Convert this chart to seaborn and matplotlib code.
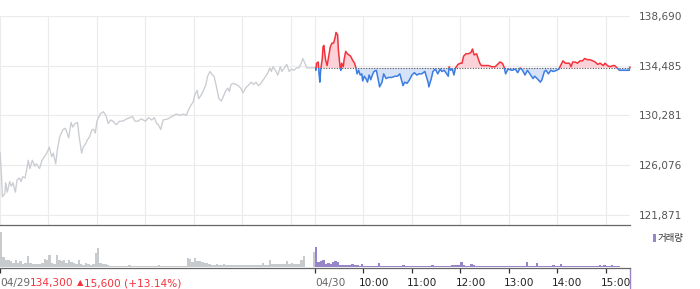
import numpy as np
import pandas as pd
import matplotlib
matplotlib.use("Agg")
import matplotlib.pyplot as plt
import matplotlib.transforms as mtransforms
from matplotlib.patches import Rectangle
import seaborn as sns

# ---------------- data ----------------
base_price = 134300          # previous close (04/29 close)
header_price = "134,300"
header_change = "15,600 (+13.14%)"

# 04/29 intraday price (minutes after 09:00)
day1_min = [0, 2, 3, 6, 7, 9, 12, 14, 16, 19, 21, 24, 26, 28, 31, 33, 35, 37, 40, 43, 45, 49, 52, 54, 58,
            61, 64, 66, 69, 71, 74, 78, 81, 85, 88, 90, 93, 96, 98, 101, 103, 106, 108, 111, 114, 116, 118,
            120, 124, 128, 131, 134, 137, 140, 144, 148, 152, 157, 161, 164, 167, 171, 175, 180, 184, 188,
            191, 194, 196, 199, 202, 208, 213, 218, 223, 227, 231, 233, 236, 239, 241, 244, 246, 249, 252,
            255, 257, 260, 263, 265, 268, 271, 274, 276, 279, 282, 284, 286, 289, 292, 295, 298, 301, 304,
            307, 311, 314, 317, 320, 323, 326, 329, 331, 334, 336, 338, 341, 344, 347, 349, 352, 355, 358,
            361, 364, 367, 370, 373, 375, 378, 380, 390]
day1_price = [127200, 125000, 123400, 123700, 124600, 123800, 124700, 124300, 124600, 123800, 124800, 125000,
              124700, 125100, 125000, 125700, 126500, 125800, 126500, 126000, 126200, 125800, 126500, 126700,
              127100, 127600, 126800, 127100, 126200, 127400, 128500, 129100, 129200, 128400, 129700, 129300,
              129600, 129700, 128500, 127100, 127600, 127900, 128200, 128500, 129100, 129100, 128800, 129800,
              130400, 130600, 130300, 129600, 129900, 129800, 129500, 129800, 129800, 130000, 130100, 130200,
              129800, 129800, 130000, 129800, 130100, 129900, 130100, 129600, 129500, 129100, 129900, 130000,
              130200, 130400, 130300, 130400, 130300, 130700, 131100, 131400, 132000, 132400, 131700, 132000,
              132400, 132900, 133600, 134000, 133700, 133600, 132700, 131700, 131500, 131800, 132300, 132600,
              132300, 132900, 133000, 132900, 132800, 132600, 132200, 132600, 132800, 133100, 132900, 133100,
              132800, 133000, 133300, 133600, 133800, 134300, 134000, 134400, 134100, 133700, 134400, 134000,
              134300, 134600, 134000, 134200, 134100, 134300, 134300, 134700, 135100, 134600, 134300, 134300]

# 04/30 intraday price (minutes after 09:00)
day2_min = [0, 1, 2, 4, 5, 6, 7, 9, 10, 11, 13, 15, 17, 19, 21, 23, 25, 26, 28, 29, 31, 32, 33, 35, 36, 38,
            40, 42, 44, 47, 49, 51, 52, 54, 56, 58, 59, 61, 63, 65, 67, 69, 71, 73, 76, 78, 80, 83, 85, 88,
            91, 95, 99, 102, 105, 107, 109, 111, 114, 117, 120, 123, 126, 129, 132, 136, 140, 141, 144, 146,
            149, 152, 155, 157, 160, 163, 165, 166, 168, 170, 172, 174, 177, 180, 182, 184, 187, 190, 193,
            195, 197, 200, 202, 204, 206, 210, 215, 219, 223, 226, 229, 232, 234, 236, 239, 244, 248, 251,
            254, 257, 260, 263, 266, 270, 272, 275, 279, 281, 284, 286, 289, 292, 295, 299, 302, 304, 307,
            310, 312, 315, 317, 319, 322, 325, 328, 331, 334, 337, 340, 344, 347, 350, 353, 357, 359, 362,
            365, 369, 371, 374, 377, 380, 386, 389, 390]
day2_price = [134300, 134100, 134700, 134800, 133800, 133100, 134100, 135100, 136100, 136200, 135000, 134500,
              135300, 136100, 136400, 136400, 136900, 137300, 137100, 135800, 134400, 134100, 134700, 134400,
              135000, 135700, 135500, 135400, 135300, 134900, 134700, 134200, 133800, 134100, 133700, 133800,
              133200, 133600, 133400, 133100, 133700, 133300, 133700, 134000, 134100, 133400, 132700, 133100,
              133800, 133400, 133500, 133500, 133600, 133600, 133800, 133300, 132800, 133100, 133000, 133300,
              133700, 133900, 133700, 133800, 133800, 134000, 133100, 132700, 133400, 134000, 134200, 133800,
              134200, 134000, 134100, 133800, 133600, 134400, 134100, 134200, 133700, 134300, 134600, 134700,
              134700, 135300, 135500, 135500, 135600, 135900, 135400, 135500, 135100, 134700, 134500, 134500,
              134500, 134400, 134400, 134600, 134800, 134700, 134400, 133800, 134200, 134100, 134200, 133900,
              134300, 134100, 133700, 134100, 133800, 133400, 133600, 133400, 133100, 133300, 134000, 134100,
              133800, 134100, 134000, 134100, 134200, 134500, 134900, 134700, 134700, 134700, 134400, 134800,
              134800, 134700, 134900, 134900, 135100, 135000, 135000, 134900, 134800, 134600, 134700, 134500,
              134700, 134500, 134400, 134500, 134500, 134300, 134100, 134100, 134100, 134100, 134400]

# volume per 3-minute bucket (thousand shares)
day1_vol = [357, 100, 75, 70, 60, 40, 70, 35, 57, 30,
            35, 107, 43, 30, 30, 28, 30, 35, 83, 67,
            117, 35, 30, 123, 73, 60, 67, 40, 70, 50,
            35, 30, 67, 25, 23, 35, 25, 23, 25, 140,
            197, 40, 30, 25, 15, 12, 10, 13, 10, 12,
            10, 11, 10, 23, 10, 12, 10, 8, 10, 11,
            10, 9, 10, 12, 10, 15, 10, 10, 12, 10,
            9, 10, 11, 12, 12, 10, 12, 90, 83, 45,
            90, 57, 55, 45, 40, 35, 30, 20, 18, 33,
            18, 15, 27, 18, 15, 18, 15, 18, 15, 20,
            18, 15, 18, 15, 20, 18, 15, 20, 43, 20,
            22, 67, 25, 25, 28, 25, 30, 28, 60, 28,
            43, 25, 28, 30, 67, 107, 0, 0, 0, 153]
day2_vol = [200, 45, 60, 70, 30, 35, 27, 50, 55, 45,
            17, 15, 17, 15, 20, 33, 17, 15, 13, 27,
            10, 12, 10, 10, 12, 10, 37, 10, 10, 12,
            10, 8, 10, 12, 10, 10, 15, 10, 10, 12,
            10, 10, 13, 10, 10, 12, 10, 10, 15, 10,
            12, 10, 10, 10, 12, 10, 20, 15, 15, 17,
            50, 20, 13, 13, 27, 15, 13, 12, 10, 10,
            10, 10, 8, 10, 10, 12, 10, 10, 8, 10,
            10, 12, 10, 10, 10, 10, 10, 50, 10, 10,
            10, 40, 10, 10, 12, 10, 10, 13, 20, 10,
            10, 27, 8, 10, 8, 10, 8, 8, 10, 8,
            10, 8, 8, 10, 8, 8, 10, 20, 10, 20,
            8, 10, 20, 7, 7, 7, 0, 0, 0, 0]

y_ticks = [121871, 126076, 130281, 134485, 138690]
day_labels = ["04/29", "04/30"]
hour_labels = ["10:00", "11:00", "12:00", "13:00", "14:00", "15:00"]

# ---------------- style ----------------
RED = "#f5323c"
RED_FILL = "#fbd2d7"
BLUE = "#3b7de0"
BLUE_FILL = "#d5e2f7"
GRAY_LINE = "#c9ccd1"
GRAY_VOL = "#c8cbce"
PURPLE = "#9884c8"
GRID = "#ebebeb"

sns.set_theme(style="white")
plt.rcParams["font.family"] = ["DejaVu Sans", "Noto Sans CJK KR"]

W, H = 700, 289
fig = plt.figure(figsize=(W / 100, H / 100), dpi=100, facecolor="white")


def rect(l, t, r, b):
    return [l / W, 1 - b / H, (r - l) / W, (b - t) / H]


ax = fig.add_axes(rect(0, 16, 630, 225))
axv = fig.add_axes(rect(0, 225, 630, 268))

SESSION = 390  # minutes per day
d1x = np.array(day1_min, dtype=float)
d1y = np.array(day1_price, dtype=float)
d2x = SESSION + np.array(day2_min, dtype=float)
d2y = np.array(day2_price, dtype=float)


def above_clip():
    return Rectangle((SESSION, base_price), SESSION + 10, 1e6, transform=ax.transData)


def below_clip():
    return Rectangle((SESSION, base_price - 1e6), SESSION + 10, 1e6, transform=ax.transData)


# ---- price panel ----
sns.lineplot(x=d1x, y=d1y, ax=ax, color=GRAY_LINE, linewidth=0.95, estimator=None, sort=False, zorder=3)

f_up = ax.fill_between(d2x, d2y, float(base_price), facecolor=RED_FILL, edgecolor="none",
                       linewidth=0, zorder=2)
f_up.set_clip_path(above_clip())
f_dn = ax.fill_between(d2x, d2y, float(base_price), facecolor=BLUE_FILL, edgecolor="none",
                       linewidth=0, zorder=2)
f_dn.set_clip_path(below_clip())

ax.plot([SESSION, 2 * SESSION], [base_price, base_price], color="#555555", lw=0.8,
        ls=(0, (1, 1.4)), zorder=2.5)

sns.lineplot(x=d2x, y=d2y, ax=ax, color=RED, linewidth=1.1, estimator=None, sort=False, zorder=3)
ax.lines[-1].set_clip_path(above_clip())
sns.lineplot(x=d2x, y=d2y, ax=ax, color=BLUE, linewidth=1.1, estimator=None, sort=False, zorder=3)
ax.lines[-1].set_clip_path(below_clip())

ax.set_xlim(0, 2 * SESSION)
ax.set_ylim(121026, 138690)
ax.set_xticks([h * 60 for h in range(7)] + [SESSION + h * 60 for h in range(7)])
ax.set_yticks(y_ticks)
ax.set_yticklabels([f"{v:,}" for v in y_ticks])
ax.grid(True, color=GRID, linewidth=0.8)
ax.set_axisbelow(True)
ax.yaxis.tick_right()
ax.tick_params(axis="x", length=0, labelbottom=False)
ax.tick_params(axis="y", length=0, pad=6.5, labelsize=7.6, labelcolor="#555555")
for s in ["top", "left", "right"]:
    ax.spines[s].set_visible(False)
ax.spines["bottom"].set_color("#666666")
ax.spines["bottom"].set_linewidth(0.9)
ax.set_xlabel("")
ax.set_ylabel("")

# ---- volume panel ----
BUCKET = 3  # minutes per volume bar
vol1_df = pd.DataFrame({"t": BUCKET * np.arange(len(day1_vol)) + BUCKET / 2, "v": day1_vol})
vol2_df = pd.DataFrame({"t": SESSION + BUCKET * np.arange(len(day2_vol)) + BUCKET / 2, "v": day2_vol})
sns.histplot(data=vol1_df, x="t", weights="v", binwidth=BUCKET, binrange=(0, SESSION), ax=axv,
             color=GRAY_VOL, alpha=1, linewidth=0, element="bars", zorder=3)
sns.histplot(data=vol2_df, x="t", weights="v", binwidth=BUCKET, binrange=(SESSION, 2 * SESSION), ax=axv,
             color=PURPLE, alpha=1, linewidth=0, element="bars", zorder=3)
axv.set_xlim(0, 2 * SESSION)
axv.set_ylim(-12, 430)
axv.set_yticks([])
axv.set_ylabel("")
axv.set_xlabel("")
axv.set_xticks([0, SESSION] + [SESSION + 60 * (h + 1) for h in range(6)])
axv.tick_params(axis="x", direction="out", length=3.6, width=0.9, color="#333333",
                labelbottom=False, bottom=True)
for s in ["top", "left", "right"]:
    axv.spines[s].set_visible(False)
axv.spines["bottom"].set_color("#666666")
axv.spines["bottom"].set_linewidth(0.9)
axv.patch.set_alpha(0)

blend = mtransforms.blended_transform_factory(axv.transData, axv.transAxes)
axv.plot([2 * SESSION, 2 * SESSION], [0, -0.47], transform=blend, color=PURPLE, lw=1.0, clip_on=False)

# ---- x labels ----
def lab(x, text, dx, color, **kw):
    tr = mtransforms.offset_copy(blend, fig=fig, x=dx, y=-15, units="dots")
    return axv.text(x, 0, text, transform=tr, ha="left", va="center", color=color,
                    fontsize=7.6, clip_on=False, **kw)

t1 = lab(0, day_labels[0], 0, "#666666")
t2 = axv.annotate(header_price, xy=(1, 0.5), xycoords=t1, xytext=(0, 0), textcoords="offset points",
                  ha="left", va="center", color=RED, fontsize=7.6)
t3 = axv.annotate("▲", xy=(1, 0.5), xycoords=t2, xytext=(2.2, 0), textcoords="offset points",
                  ha="left", va="center", color=RED, fontsize=6.0)
axv.annotate(header_change, xy=(1, 0.5), xycoords=t3, xytext=(0.3, 0), textcoords="offset points",
             ha="left", va="center", color=RED, fontsize=7.6)
lab(SESSION, day_labels[1], 0, "#666666")
for i, t in enumerate(hour_labels):
    lab(SESSION + 60 * (i + 1), t, -5, "#222222")

# ---- legend ----
fig.patches.append(Rectangle((653 / W, 1 - 241.5 / H), 3 / W, 7.5 / H, transform=fig.transFigure,
                             color=PURPLE, linewidth=0))
fig.text(658 / W, 1 - 238 / H, "거래량", fontsize=6.8, ha="left", va="center", color="#333333",
         family=["Noto Sans CJK KR", "DejaVu Sans"])

fig.savefig("out.png", dpi=100, facecolor="white")
